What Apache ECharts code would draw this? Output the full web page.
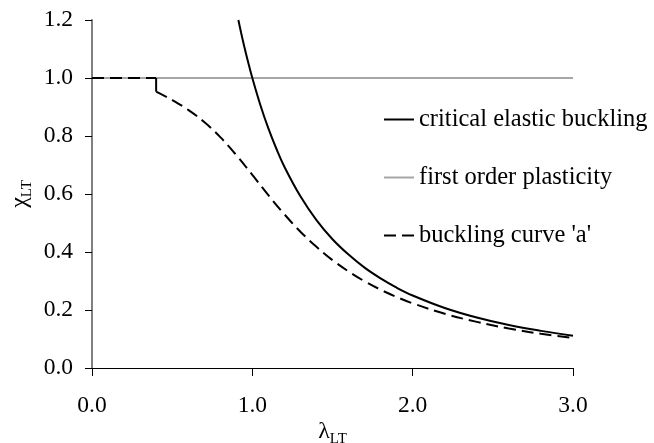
<!DOCTYPE html>
<html><head><meta charset="utf-8">
<script src="https://cdn.jsdelivr.net/npm/echarts@6/dist/echarts.min.js"></script>
<style>html,body{margin:0;padding:0;background:#fff}#c{width:654px;height:443px}</style>
</head><body><div id="c"></div>
<script>
var xTicks = ['0.0','1.0','2.0','3.0'];
var yTicks = ['0.0','0.2','0.4','0.6','0.8','1.0','1.2'];

var elasticX = [0.913,0.93,0.95,0.97,1.0,1.05,1.1,1.15,1.2,1.3,1.4,1.5,1.6,1.7,1.8,1.9,2.0,2.2,2.4,2.6,2.8,3.0];
var elasticY = [1.2,1.156,1.108,1.063,1.0,0.907,0.826,0.756,0.694,0.592,0.510,0.444,0.391,0.346,0.309,0.277,0.250,0.207,0.174,0.148,0.128,0.111];

var plasticX = [0.0,3.0];
var plasticY = [1.0,1.0];

var plateauX = [0.0,0.4];
var plateauY = [1.0,1.0];

var curveAX = [0.4,0.5,0.6,0.7,0.8,0.9,1.0,1.1,1.2,1.3,1.4,1.5,1.6,1.7,1.8,1.9,2.0,2.2,2.4,2.6,2.8,3.0];
var curveAY = [0.953,0.924,0.890,0.848,0.796,0.734,0.666,0.596,0.530,0.470,0.418,0.372,0.333,0.299,0.270,0.245,0.223,0.187,0.159,0.136,0.118,0.104];

var stepX = [0.4,0.4];
var stepY = [1.0,0.953];

function pairs(xs, ys){ return xs.map(function(x,i){return [x, ys[i]];}); }

var FONT = "'Liberation Serif', 'Times New Roman', Tinos, serif";
var DASH = [12, 6];
var chart = echarts.init(document.getElementById('c'));
chart.setOption({
  animation: false,
  textStyle: {fontFamily: FONT, color: '#000'},
  grid: {left: 92, right: 81, top: 20, bottom: 75, outerBoundsMode: 'none', containLabel: false},
  legend: {
    orient: 'vertical', left: 378, top: 102,
    itemWidth: 30, itemHeight: 14, itemGap: 33,
    itemStyle: {opacity: 0},
    textStyle: {fontFamily: FONT, fontSize: 24.5, color: '#000', lineHeight: 24},
    data: [
      {name: 'critical elastic buckling', lineStyle: {color: '#000', width: 2, type: 'solid'}},
      {name: 'first order plasticity', lineStyle: {color: '#a6a6a6', width: 2, type: 'solid'}},
      {name: "buckling curve 'a'", lineStyle: {color: '#000', width: 2, type: DASH}}
    ]
  },
  xAxis: {
    type: 'value', min: 0, max: 3, interval: 1,
    name: '{a|λ}{b|LT}', nameLocation: 'middle', nameGap: 50, nameMoveOverlap: false,
    nameTextStyle: {verticalAlign: 'top', rich: {
      a: {fontFamily: FONT, fontSize: 24, color: '#000', verticalAlign: 'bottom', lineHeight: 26},
      b: {fontFamily: FONT, fontSize: 15, color: '#000', verticalAlign: 'bottom', lineHeight: 15, padding: [0,0,-3,0]}
    }},
    axisLine: {show: true, lineStyle: {color: '#000', width: 1}},
    axisTick: {show: true, length: 8, lineStyle: {color: '#000', width: 1}},
    axisLabel: {fontFamily: FONT, fontSize: 23.5, color: '#000', margin: 26,
      formatter: function(v){ return xTicks[Math.round(v)]; }},
    splitLine: {show: false}
  },
  yAxis: {
    type: 'value', min: 0, max: 1.2, interval: 0.2,
    name: '{a|χ}{b|LT}', nameLocation: 'middle', nameGap: 60, nameRotate: 90, nameMoveOverlap: false,
    nameTextStyle: {rich: {
      a: {fontFamily: FONT, fontSize: 24, color: '#000', verticalAlign: 'bottom', lineHeight: 26},
      b: {fontFamily: FONT, fontSize: 15, color: '#000', verticalAlign: 'bottom', lineHeight: 15, padding: [0,0,-3,0]}
    }},
    axisLine: {show: true, lineStyle: {color: '#808080', width: 2}},
    axisTick: {show: true, length: 7, lineStyle: {color: '#000', width: 1}},
    axisLabel: {fontFamily: FONT, fontSize: 23.5, color: '#000', margin: 19,
      formatter: function(v){ return yTicks[Math.round(v*5)]; }},
    splitLine: {show: false}
  },
  series: [
    {name: 'first order plasticity', type: 'line', symbol: 'none', z: 1,
     data: pairs(plasticX, plasticY), lineStyle: {color: '#a6a6a6', width: 2}, itemStyle: {color: '#a6a6a6'}},
    {name: 'critical elastic buckling', type: 'line', symbol: 'none', smooth: 0.4, z: 3,
     data: pairs(elasticX, elasticY), lineStyle: {color: '#000', width: 2}, itemStyle: {color: '#000'}},
    {name: "buckling curve 'a'", type: 'line', symbol: 'none', smooth: 0.4, z: 2,
     data: pairs(curveAX, curveAY), lineStyle: {color: '#000', width: 2, type: DASH}, itemStyle: {color: '#000'}},
    {name: "plateau", type: 'line', symbol: 'none', z: 2,
     data: pairs(plateauX, plateauY), lineStyle: {color: '#000', width: 2, type: DASH}, itemStyle: {color: '#000'}},
    {name: 'step', type: 'line', symbol: 'none', z: 2,
     data: pairs(stepX, stepY), lineStyle: {color: '#000', width: 2}, itemStyle: {color: '#000'}}
  ]
});
</script></body></html>
